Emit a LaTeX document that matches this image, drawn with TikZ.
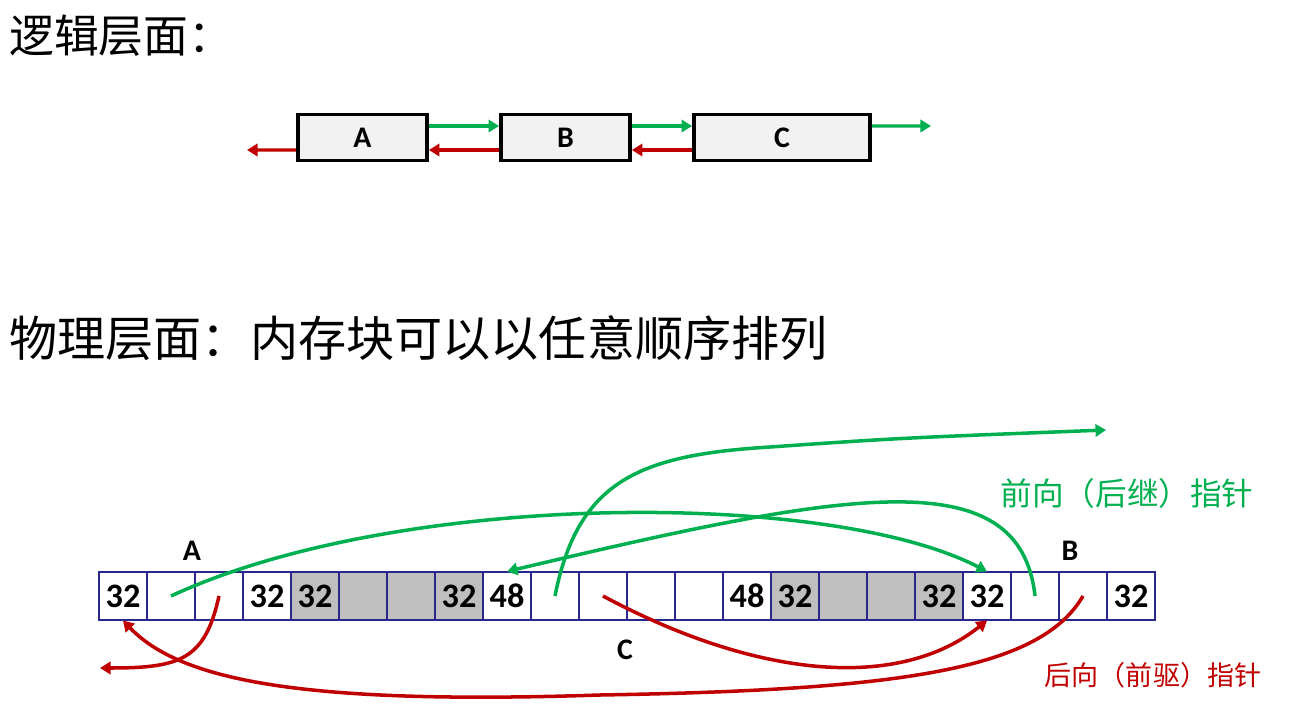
\documentclass[tikz,border=0pt]{standalone}
\usepackage{fontspec}
\usetikzlibrary{arrows.meta}
\newfontfamily\cjk{Noto Sans CJK SC}
\newfontfamily\numfont{Carlito}
\definecolor{fwdgreen}{RGB}{0,176,80}
\definecolor{bwdred}{RGB}{192,0,0}
\definecolor{cellblue}{RGB}{40,40,140}
\definecolor{boxgray}{RGB}{242,242,242}
\definecolor{usedgray}{RGB}{191,191,191}

\begin{document}
\begin{tikzpicture}[x=0.02cm,y=-0.02cm,
  cell/.style={draw=cellblue,line width=0.6pt,minimum width=0.96cm,minimum height=0.96cm,inner sep=0pt,font=\numfont\bfseries\fontsize{19.5}{19.5}\selectfont},
  usedcell/.style={cell,fill=usedgray},
  block/.style={draw=black,line width=2.2pt,fill=boxgray,minimum height=0.92cm,inner sep=0pt,font=\numfont\bfseries\fontsize{17}{17}\selectfont},
  fwd/.style={draw=fwdgreen,line width=1.8pt,-{Triangle[length=6pt,width=7pt]}},
  bwd/.style={draw=bwdred,line width=1.8pt,-{Triangle[length=6pt,width=7pt]}},
  tag/.style={font=\numfont\bfseries\fontsize{17}{17}\selectfont}]
\useasboundingbox (0,0) rectangle (1291,712);

\node[anchor=west,inner sep=0pt,font=\cjk\fontsize{25.5}{28}\selectfont] (title1) at (9,36) {逻辑层面：};
\node[anchor=west,inner sep=0pt,font=\cjk\fontsize{27.4}{30}\selectfont] (title2) at (9,338) {物理层面：内存块可以以任意顺序排列};

\node[block,minimum width=2.58cm] (A) at (362.5,137.5) {A};
\node[block,minimum width=2.58cm] (B) at (565.5,137.5) {B};
\node[block,minimum width=3.52cm] (C) at (782,137.5) {C};
\coordinate (out) at (931,126);
\coordinate (in) at (247,150);

\draw [fwd] ([yshift=0.23cm]A.east) -- ([yshift=0.23cm]B.west);
\draw [fwd] ([yshift=0.23cm]B.east) -- ([yshift=0.23cm]C.west);
\draw [fwd] ([yshift=0.23cm]C.east) -- (out);
\draw [bwd] ([yshift=-0.25cm]B.west) -- ([yshift=-0.25cm]A.east);
\draw [bwd] ([yshift=-0.25cm]C.west) -- ([yshift=-0.25cm]B.east);
\draw [bwd] ([yshift=-0.25cm]A.west) -- (in);

\node[cell] (c0) at (123,596) {32};
\node[cell] (c1) at (171,596) {};
\node[cell] (c2) at (219,596) {};
\node[cell] (c3) at (267,596) {32};
\node[usedcell] (c4) at (315,596) {32};
\node[usedcell] (c5) at (363,596) {};
\node[usedcell] (c6) at (411,596) {};
\node[usedcell] (c7) at (459,596) {32};
\node[cell] (c8) at (507,596) {48};
\node[cell] (c9) at (555,596) {};
\node[cell] (c10) at (603,596) {};
\node[cell] (c11) at (651,596) {};
\node[cell] (c12) at (699,596) {};
\node[cell] (c13) at (747,596) {48};
\node[usedcell] (c14) at (795,596) {32};
\node[usedcell] (c15) at (843,596) {};
\node[usedcell] (c16) at (891,596) {};
\node[usedcell] (c17) at (939,596) {32};
\node[cell] (c18) at (987,596) {32};
\node[cell] (c19) at (1035,596) {};
\node[cell] (c20) at (1083,596) {};
\node[cell] (c21) at (1131,596) {32};

\node[tag] (labA) at (192,551) {A};
\node[tag] (labB) at (1070,551) {B};
\node[tag] (labC) at (625,650) {C};

\coordinate (aprev) at (100,668);
\coordinate (cnext) at (1106,430);

\draw [fwd,line width=2pt] (c1.center) .. controls (400,490) and (830,490) .. (c18.north);
\draw [fwd,line width=2pt] (c19.center) .. controls (1020,460) and (850,490) .. (c8.north);
\draw [fwd,line width=2pt] (c9.center) .. controls (578,480) and (640,455) .. (770,447) .. controls (900,438) .. (cnext);

\draw [bwd,line width=2pt] (c2.center) .. controls (205,660) and (180,668) .. (aprev);
\draw [bwd,line width=2pt] (c10.center) .. controls (760,680) and (900,690) .. (c18.south);
\draw [bwd,line width=2pt] (c20.center) .. controls (1040,670) and (900,690) .. (600,695) .. controls (300,705) and (180,680) .. (c0.south);

\node[text=fwdgreen,font=\cjk\fontsize{18}{20}\selectfont] (fwdlab) at (1127,493) {前向（后继）指针};
\node[text=bwdred,font=\cjk\fontsize{15.4}{18}\selectfont] (bwdlab) at (1153,675) {后向（前驱）指针};

\end{tikzpicture}
\end{document}
